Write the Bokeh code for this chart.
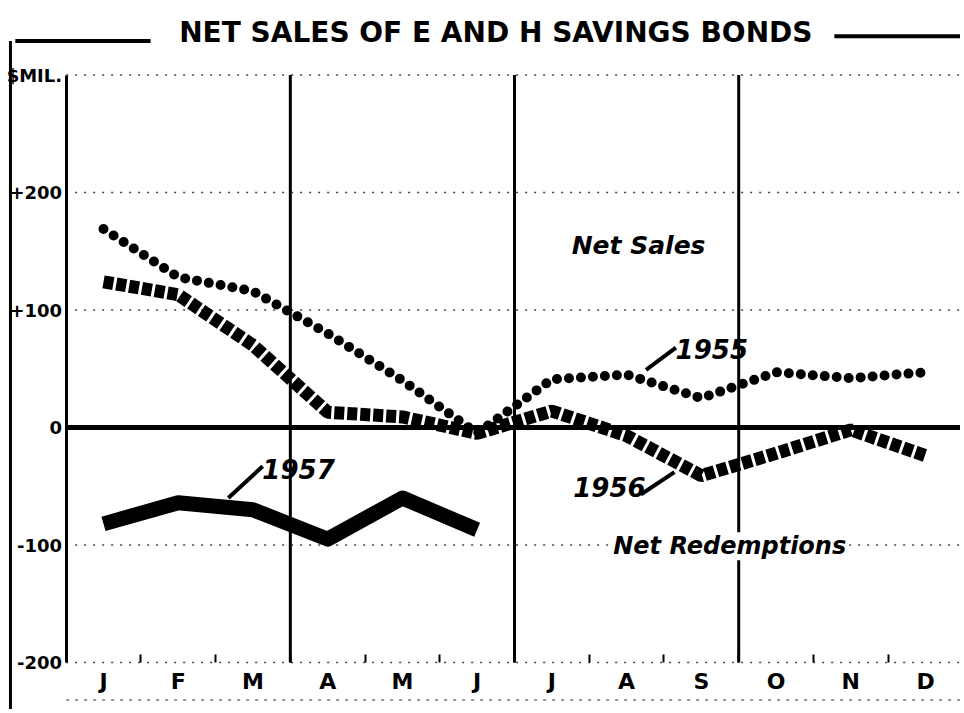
from bokeh.plotting import figure
from bokeh.models import Range1d, LinearAxis, FixedTicker, Label
from bokeh.core.properties import value
from bokeh.embed import file_html
from bokeh.resources import INLINE

# ---- data ----
month_labels = ["J", "F", "M", "A", "M", "J", "J", "A", "S", "O", "N", "D"]
months = list(range(12))
half_months = [m + 0.5 for m in range(11)]
sales_1955 = [169, 128, 116, 80, 40, -5, 41, 45, 25, 47, 42, 47]
sales_1956 = [124, 113, 70, 13, 9, -5, 14, -7, -41, -22, -2, -24]
months_1957 = [0, 1, 2, 3, 4, 5]
sales_1957 = [-82, -64, -70, -95, -60, -87]
y_ticks = [-200, -100, 0, 100, 200, 300]
y_tick_labels = {-200: "-200", -100: "-100", 0: "0", 100: "+100", 200: "+200", 300: "$MIL."}
grid_values = [300, 200, 100, -100, -200]
quarter_lines = [2.5, 5.5, 8.5]
title_text = "NET SALES OF E AND H SAVINGS BONDS"

FONT_NAME = "DejaVu Sans"
FONT = value(FONT_NAME)

W, H = 960, 709
PX_PER_MONTH = 74.73
PX_PER_UNIT = 1.175
x_start = -103 / PX_PER_MONTH
y_end = 427 / PX_PER_UNIT

p = figure(width=W, height=H, output_backend="svg", toolbar_location=None,
           x_range=Range1d(x_start, x_start + W / PX_PER_MONTH),
           y_range=Range1d(y_end - H / PX_PER_UNIT, y_end),
           x_axis_location=None, y_axis_location=None, min_border=0)
p.outline_line_color = None
p.background_fill_color = "white"
p.border_fill_color = "white"
for g in p.grid:
    g.visible = False

# dotted gridlines
p.segment(x0=[-0.5] * len(grid_values), y0=grid_values, x1=[11.6] * len(grid_values), y1=grid_values,
          line_color="#444444", line_width=1.5, line_dash="2 7")
# quarter vertical lines
p.segment(x0=quarter_lines, y0=[-200] * 3, x1=quarter_lines, y1=[300] * 3,
          line_color="black", line_width=3)
# zero line
p.segment(x0=[-0.5], y0=[0], x1=[11.6], y1=[0], line_color="black", line_width=5)

# outer frame left border, bottom faint line, title rules
p.segment(x0=[-1.245], y0=[329], x1=[-1.245], y1=[-245], line_color="black", line_width=3)
p.segment(x0=[-0.5], y0=[-232], x1=[11.6], y1=[-232], line_color="#777777", line_width=1.5, line_dash="3 6")
p.segment(x0=[-1.18, 9.78], y0=[329, 333], x1=[0.63, 11.6], y1=[329, 333], line_color="black", line_width=4)

# series
p.line(months, sales_1956, line_color="black", line_width=13, line_dash="10 3")
p.line(months, sales_1955, line_color="black", line_width=10, line_dash="0 12", line_cap="round")
p.line(months_1957, sales_1957, line_color="black", line_width=15, line_join="round")

# axes
yaxis = LinearAxis(fixed_location=-0.5, ticker=FixedTicker(ticks=y_ticks),
                   major_label_overrides=y_tick_labels, bounds=(-200, 300),
                   axis_line_width=3, axis_line_color="black",
                   major_tick_in=0, major_tick_out=0, minor_tick_in=0, minor_tick_out=0,
                   major_label_standoff=4, major_label_text_font=FONT_NAME,
                   major_label_text_font_style="bold", major_label_text_font_size="18px",
                   major_label_text_color="black")
p.add_layout(yaxis, "left")
xaxis = LinearAxis(fixed_location=-200, ticker=FixedTicker(ticks=months, minor_ticks=half_months),
                   major_label_overrides={i: m for i, m in zip(months, month_labels)},
                   axis_line_color=None, major_tick_in=0, major_tick_out=0,
                   minor_tick_in=8, minor_tick_out=0, minor_tick_line_width=2,
                   minor_tick_line_color="black", major_label_standoff=6,
                   major_label_text_font=FONT_NAME, major_label_text_font_style="bold",
                   major_label_text_font_size="22px", major_label_text_color="black")
p.add_layout(xaxis, "below")

# title
p.text(x=[5.25], y=[336], text=[title_text], text_font=FONT, text_font_style="bold",
       text_font_size="28px", text_align="center", text_baseline="middle", text_color="black")

# annotations
p.text(x=[7.16], y=[155], text=["Net Sales"], text_font=FONT, text_font_style="bold italic",
       text_font_size="25px", text_align="center", text_baseline="middle", text_color="black")
p.add_layout(Label(x=8.38, y=-101, text="Net Redemptions", text_font=FONT_NAME,
                   text_font_style="bold italic", text_font_size="24px", text_align="center",
                   text_baseline="middle", text_color="black", background_fill_color="white"))
p.text(x=[8.14, 6.77, 2.61], y=[67, -51, -35], text=["1955", "1956", "1957"],
       text_font=FONT, text_font_style="bold italic", text_font_size="26px",
       text_align="center", text_baseline="middle", text_color="black")
p.segment(x0=[7.26, 7.19, 1.67], y0=[49, -57, -60], x1=[7.66, 7.64, 2.13], y1=[68, -38, -33],
          line_color="black", line_width=4)

open("out.html", "w").write(file_html(p, INLINE))
